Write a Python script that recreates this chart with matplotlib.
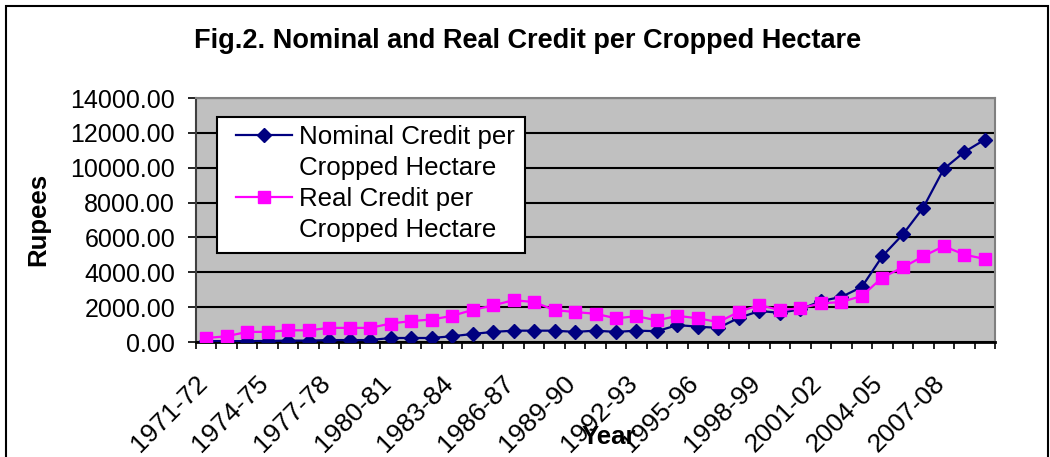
import numpy as np
import matplotlib
matplotlib.use('Agg')
import matplotlib.pyplot as plt
import matplotlib.transforms as mtransforms
from matplotlib.lines import Line2D
from matplotlib.patches import Rectangle

plt.rcParams['font.family'] = ['Liberation Sans', 'DejaVu Sans']

# data
years = ['1971-72', '1972-73', '1973-74', '1974-75', '1975-76', '1976-77', '1977-78',
         '1978-79', '1979-80', '1980-81', '1981-82', '1982-83', '1983-84', '1984-85',
         '1985-86', '1986-87', '1987-88', '1988-89', '1989-90', '1990-91', '1991-92',
         '1992-93', '1993-94', '1994-95', '1995-96', '1996-97', '1997-98', '1998-99',
         '1999-00', '2000-01', '2001-02', '2002-03', '2003-04', '2004-05', '2005-06',
         '2006-07', '2007-08', '2008-09', '2009-10']
nominal = [50, 50, 50, 60, 80, 80, 110, 110, 110, 230, 230, 230, 330, 460, 580,
           650, 650, 650, 580, 650, 580, 650, 620, 970, 880, 810, 1390, 1775, 1680,
           1870, 2350, 2585, 3160, 4920, 6170, 7715, 9930, 10900, 11610]
real = [230, 330, 580, 580, 670, 670, 810, 810, 810, 1060, 1200, 1290, 1500, 1840,
        2100, 2400, 2290, 1830, 1720, 1620, 1360, 1480, 1240, 1500, 1360, 1140, 1735,
        2120, 1830, 1930, 2215, 2295, 2640, 3700, 4280, 4920, 5500, 5015, 4765]
yticks = [0, 2000, 4000, 6000, 8000, 10000, 12000, 14000]

W, H = 1050, 457
fig = plt.figure(figsize=(W/100, H/100), dpi=100)
fig.patches.append(Rectangle((6/W, -0.1), 1042/W, 1.1 - 6/H, transform=fig.transFigure,
                             fill=False, edgecolor='black', lw=1.5))

ax = fig.add_axes([196/W, 1 - 342/H, (995 - 196)/W, (342 - 98)/H])
ax.set_facecolor('#C0C0C0')
x = np.arange(len(years))

ax.plot(x, nominal, color='#000080', lw=1.6, marker='D', ms=7.5, zorder=3)
ax.plot(x, real, color='#FF00FF', lw=1.6, marker='s', ms=9, zorder=3)

ax.set_xlim(-0.5, len(years) - 0.5)
ax.set_ylim(0, 14000)
ax.set_yticks(yticks)
ax.set_yticklabels(['%.2f' % v for v in yticks])
ax.yaxis.grid(True, color='black', lw=1.5)
ax.set_axisbelow(True)
ax.tick_params(axis='y', direction='out', length=6, width=1.2, pad=9, labelsize=18)

# labels every third year, tick marks between categories
ax.set_xticks(x[::3])
ax.set_xticklabels(years[::3], rotation=45, ha='right', va='center', rotation_mode='anchor')
ax.set_xticks(np.arange(len(years) + 1) - 0.5, minor=True)
ax.tick_params(axis='x', which='major', length=0, pad=27, labelsize=19)
ax.tick_params(axis='x', which='minor', direction='out', length=5, width=1.2)
shift = mtransforms.ScaledTranslation(-3/100, 0, fig.dpi_scale_trans)
for lab in ax.get_xticklabels():
    lab.set_transform(lab.get_transform() + shift)

for s in ['top', 'right']:
    ax.spines[s].set_color('#808080')
    ax.spines[s].set_linewidth(1.5)
ax.spines['left'].set_color('#404040')
ax.spines['left'].set_linewidth(1.5)
ax.spines['bottom'].set_color('black')
ax.spines['bottom'].set_linewidth(2)

fig.text(528/W, 1 - 41/H, 'Fig.2. Nominal and Real Credit per Cropped Hectare',
         ha='center', va='center', fontsize=19.5, fontweight='bold')
fig.text(38/W, 1 - 219/H, 'Rupees', ha='center', va='center', rotation=90,
         fontsize=18.5, fontweight='bold')
fig.text(609/W, 1 - 437/H, 'Year', ha='center', va='center', fontsize=18.5, fontweight='bold')

# legend box drawn by hand, second line of each label as its own row
ax.add_patch(Rectangle((217/W, 1 - 253/H), 308/W, 136/H, transform=fig.transFigure,
                       facecolor='white', edgecolor='black', lw=1.5, zorder=4))
handles = [Line2D([], [], color='#000080', lw=1.6, marker='D', ms=7),
           Line2D([], [], linestyle='none'),
           Line2D([], [], color='#FF00FF', lw=1.6, marker='s', ms=8.5),
           Line2D([], [], linestyle='none')]
labels = ['Nominal Credit per', 'Cropped Hectare', 'Real Credit per', 'Cropped Hectare']
leg = ax.legend(handles, labels, loc='upper left', bbox_to_anchor=(236/W, 1 - 125/H),
                bbox_transform=fig.transFigure, fontsize=18.6, frameon=False,
                borderpad=0, labelspacing=0.27, handlelength=2.15, handletextpad=0.27,
                borderaxespad=0)
leg.set_zorder(5)

plt.savefig('out.png', dpi=100)
